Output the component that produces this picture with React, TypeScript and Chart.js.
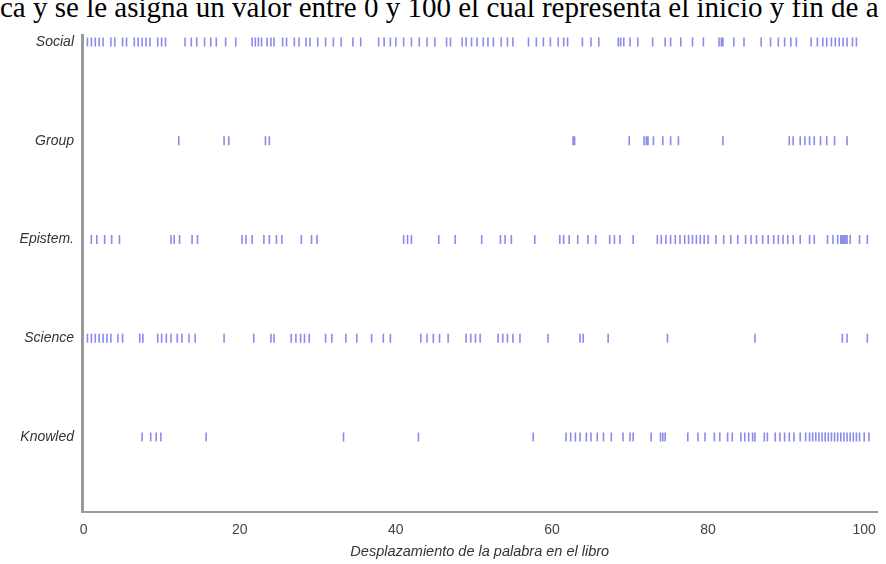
import React, { useEffect, useRef } from "react";
import { Chart, registerables } from "chart.js";

Chart.register(...registerables);

const topText = "ca y se le asigna un valor entre 0 y 100 el cual representa el inicio y fin de a";
const xTitle = "Desplazamiento de la palabra en el libro";

// bottom to top
const categories = ["Knowled", "Science", "Epistem.", "Group", "Social"];

const xTicks = [0, 20, 40, 60, 80, 100];

const socialPos = [
  0.5, 1, 1.5, 2, 2.5, 3.5, 4, 5, 5.5, 6.5, 7, 7.5, 8, 8.5, 9.5, 10, 10.5,
  13, 13.8, 14.5, 15.5, 16.3, 17, 18.2, 19.5,
  21.6, 22, 22.4, 22.8, 23.5, 24, 24.4, 25.5, 26,
  27, 27.6, 28.5, 29, 30, 31, 32, 33, 34.5, 35.5,
  37.8, 38.5, 39.3, 40, 41, 42, 43, 44, 45, 46.5, 47, 48.5, 49, 49.7,
  50.4, 51.2, 51.8, 52.5, 53.5, 54.3, 55, 57, 58, 58.9, 59.8, 60.8, 61.5, 62,
  63.9, 65, 66, 68.5, 68.8, 69.2, 70, 71, 72.9, 74.5, 75.2, 76.5, 78, 79.4,
  81.4, 81.7, 81.9, 83.3, 84.6, 86.8, 88, 89, 89.8, 90.6, 91.3, 93.2, 94,
  94.7, 95.2, 95.8, 96.3, 96.8, 97.3, 97.8, 98.5, 99,
];

const groupPos = [
  12.2, 18, 18.6, 23.3, 23.8,
  62.7, 62.9, 69.9, 71.8, 72.1, 72.3, 73, 74.2, 75.2, 76.2, 81.9,
  90.4, 90.9, 91.8, 92.4, 93, 93.6, 94.4, 95.2, 96.2, 97.8,
];

const epistemPos = [
  1, 1.7, 2.7, 3.6, 4.6,
  11.2, 11.6, 12.3, 13.9, 14.6,
  20.3, 20.8, 21.6, 23.1, 23.8, 24.7, 25.4, 27.9, 29.2, 29.9,
  41, 41.5, 42, 45.5, 47.6,
  51, 53.4, 54, 54.8, 57.8, 61, 61.5, 62.2, 63.3, 64.6, 65.6, 67.4, 68, 68.7, 70.4,
  73.5, 74, 74.6, 75.2, 75.8, 76.4, 77, 77.5, 78, 78.5, 79, 79.5, 80, 81,
  82, 82.9, 83.8, 84.8, 85.5, 86.2, 87, 87.7, 88.4, 89, 89.6, 90.2, 90.9, 91.8,
  93, 93.6, 95.3, 96, 96.6, 97, 97.2, 97.4, 97.6, 97.8, 98.2, 99.4, 100.4,
];

const sciencePos = [
  0.5, 1, 1.5, 2, 2.5, 3, 3.5, 4.4, 5, 7.2, 7.6,
  9.5, 10, 10.6, 11.2, 12, 12.6, 13.5, 14.3, 18, 21.8, 24, 24.4,
  26.6, 27.2, 27.8, 28.3, 28.9, 31, 31.8, 33.6, 35, 36.9, 38.4, 39.3,
  43.2, 44, 44.8, 45.6, 46.7, 49, 49.6, 50.2, 50.8,
  53.1, 53.7, 54.3, 55, 55.9, 59.5, 63.6, 64, 67.2, 74.8, 86, 97.2, 97.8, 100.4,
];

const knowledPos = [
  7.5, 8.6, 9.3, 9.9, 15.7, 33.3, 42.9,
  57.6, 61.8, 62.4, 63, 63.6, 64.4, 65, 65.8, 66.6, 67.6, 69.1, 70, 70.4,
  72.7, 73.9, 74.2, 74.5, 77.4, 78.7, 79.6, 80.8, 81.5, 82.5, 83.1,
  84.2, 84.7, 85.2, 85.7, 86, 87.2, 87.6, 88.6, 89.2, 89.8, 90.4, 91, 91.8,
  92.5, 93, 93.4, 93.8, 94.2, 94.6, 95, 95.4, 95.8, 96.2, 96.6, 97, 97.4,
  97.8, 98.2, 98.6, 99, 99.4, 100, 100.6,
];

const rows = [knowledPos, sciencePos, epistemPos, groupPos, socialPos];

export default function App() {
  const ref = useRef<HTMLCanvasElement | null>(null);

  useEffect(() => {
    if (!ref.current) return;
    const chart = new Chart(ref.current, {
      type: "scatter",
      data: {
        datasets: rows.map((pos, i) => ({
          label: categories[i],
          data: pos.map((v) => ({ x: v, y: i })),
          pointStyle: "line",
          rotation: 90,
          radius: 4.5,
          hoverRadius: 4.5,
          borderWidth: 1.6,
          borderColor: "rgba(60,60,225,0.6)",
          backgroundColor: "rgba(60,60,225,0.6)",
        })),
      },
      options: {
        animation: false,
        responsive: false,
        devicePixelRatio: 1,
        layout: { padding: { left: 0, right: 6, top: 35, bottom: 0 } },
        plugins: { legend: { display: false }, tooltip: { enabled: false } },
        scales: {
          x: {
            type: "linear",
            min: -0.2,
            max: 101.7,
            afterBuildTicks: (scale: any) => {
              scale.ticks = xTicks.map((v) => ({ value: v }));
            },
            afterFit: (scale: any) => {
              scale.height = 52;
            },
            grid: { display: false, drawTicks: false },
            border: { display: true, color: "#9a9a9a", width: 2 },
            ticks: {
              padding: 10,
              color: "#444",
              font: { family: "Liberation Sans, Arial", size: 14 },
            },
            title: {
              display: true,
              text: xTitle,
              color: "#333",
              font: { family: "Liberation Sans, Arial", size: 14.5, style: "italic" },
              padding: { top: 2, bottom: 3 },
            },
          },
          y: {
            type: "linear",
            min: -0.76,
            max: 4.07,
            afterBuildTicks: (scale: any) => {
              scale.ticks = categories.map((_, i) => ({ value: i }));
            },
            afterFit: (scale: any) => {
              scale.width = 82;
            },
            grid: { display: false, drawTicks: false },
            border: { display: true, color: "#9a9a9a", width: 3 },
            ticks: {
              padding: 8,
              color: "#333",
              font: { family: "Liberation Sans, Arial", size: 14, style: "italic" },
              callback: (v: any) => categories[Math.round(Number(v))] ?? "",
            },
          },
        },
      },
    });
    return () => chart.destroy();
  }, []);

  return (
    <div
      style={{
        position: "absolute",
        left: 0,
        top: 0,
        width: 886,
        height: 564,
        overflow: "hidden",
        background: "#fff",
      }}
    >
      <div
        style={{
          position: "absolute",
          left: 0,
          top: -10,
          width: 886,
          whiteSpace: "nowrap",
          overflow: "hidden",
          fontFamily: "'Liberation Serif', 'Times New Roman', serif",
          fontSize: 29,
          lineHeight: "34px",
          color: "#000",
        }}
      >
        {topText}
      </div>
      <canvas
        ref={ref}
        width={886}
        height={564}
        style={{ position: "absolute", left: 0, top: 0, width: 886, height: 564 }}
      />
    </div>
  );
}
